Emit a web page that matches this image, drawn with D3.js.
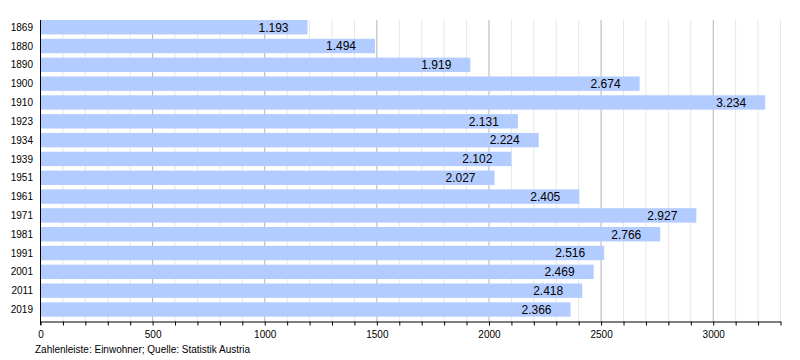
<!DOCTYPE html>
<html><head><meta charset="utf-8">
<script src="https://cdn.jsdelivr.net/npm/d3@7"></script>
<style>body{margin:0;background:#fff}svg{display:block;font-family:"Liberation Sans",Arial,sans-serif}</style>
</head><body>
<svg id="c" width="800" height="360"></svg>
<script>
const years = ["1869","1880","1890","1900","1910","1923","1934","1939","1951","1961","1971","1981","1991","2001","2011","2019"];
const population = [1193,1494,1919,2674,3234,2131,2224,2102,2027,2405,2927,2766,2516,2469,2418,2366];
const majorTicks = [0,500,1000,1500,2000,2500,3000];
const caption = "Zahlenleiste: Einwohner; Quelle: Statistik Austria";

(function(){
const svg = d3.select("#c");
const x = d3.scaleLinear().domain([0,3300]).range([40,780]);
const y = d3.scaleBand().domain(years).range([17.8,318.9]).paddingInner(0.235).paddingOuter(0.1175);
const plotTop = 20, axisY = 321;

const minor = d3.range(0,3301,100);
svg.append("g").selectAll("line").data(minor).join("line")
  .attr("x1",d=>x(d)+0.5).attr("x2",d=>x(d)+0.5)
  .attr("y1",plotTop).attr("y2",axisY)
  .attr("stroke",d=>d%500===0?"#b3b3b3":"#e6e6e6").attr("stroke-width",1);

svg.append("g").selectAll("rect").data(population).join("rect")
  .attr("x",x(0)).attr("y",(d,i)=>y(years[i]))
  .attr("width",d=>x(d)-x(0)).attr("height",y.bandwidth())
  .attr("fill","#b3ccff");

const fmt = d => d3.format(",")(d).replace(/,/g,".");
svg.append("g").selectAll("text").data(population).join("text")
  .attr("x",d=>x(d)-19).attr("y",(d,i)=>y(years[i])+y.bandwidth()/2)
  .attr("dy","0.36em").attr("text-anchor","end")
  .attr("font-size",12).attr("fill","#000").text(fmt);

svg.append("g").selectAll("text").data(years).join("text")
  .attr("x",33).attr("y",d=>y(d)+y.bandwidth()/2).attr("dy","0.36em")
  .attr("text-anchor","end").attr("font-size",10).attr("fill","#000").text(d=>d);

svg.append("line").attr("x1",x(0)+0.5).attr("x2",x(0)+0.5).attr("y1",plotTop).attr("y2",axisY+4).attr("stroke","#000");

const ax = svg.append("g").attr("transform",`translate(0.5,${axisY+0.5})`)
  .call(d3.axisBottom(x).tickValues(minor).tickSize(4).tickSizeOuter(0).tickFormat(d=>majorTicks.includes(d)?d:""));
ax.select(".domain").attr("stroke","#000");
ax.selectAll(".tick line").attr("stroke","#000");
ax.selectAll("text").attr("font-size",10).attr("font-family","Liberation Sans, Arial, sans-serif").attr("fill","#000").attr("dy","0.9em");

svg.append("text").attr("x",35).attr("y",353).attr("font-size",10).attr("fill","#000").text(caption);
})();
</script>
</body></html>
